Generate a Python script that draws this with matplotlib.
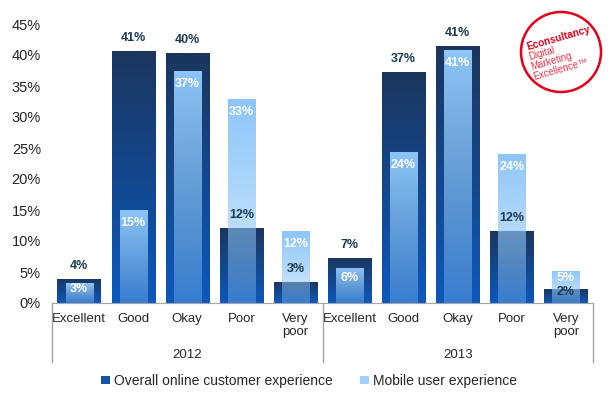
import numpy as np
import matplotlib
matplotlib.use("Agg")
import matplotlib.pyplot as plt
from matplotlib.patches import Patch, Ellipse
from matplotlib.lines import Line2D
from matplotlib.transforms import blended_transform_factory, offset_copy

plt.rcParams['font.family'] = ['Liberation Sans', 'DejaVu Sans']

# --- data ---
years = ["2012", "2013"]
ratings = ["Excellent", "Good", "Okay", "Poor", "Very\npoor"]
overall = [3.9, 40.6, 40.3, 12.1, 3.4,
           7.3, 37.3, 41.4, 11.6, 2.2]
mobile = [3.2, 15.0, 37.4, 32.9, 11.6,
          5.7, 24.4, 40.8, 24.1, 5.1]
series_names = ["Overall online customer experience", "Mobile user experience"]
yticks = [0, 5, 10, 15, 20, 25, 30, 35, 40, 45]

# colours
dark_top = np.array([27, 54, 94]) / 255
dark_bot = np.array([12, 88, 188]) / 255
light_rgb = np.array([141, 198, 249]) / 255
label_dark = "#1b3a55"

W, H = 615, 398
fig = plt.figure(figsize=(W / 100, H / 100), dpi=100)
ax = fig.add_axes([52 / W, 1 - 303 / H, (593 - 52) / W, 279 / H])

x = np.arange(len(overall))


def gradient_fill(ax, rects, c_top, c_bot, a_top, a_bot, z):
    # paint each bar with a vertical gradient clipped to its rectangle
    n = 80
    t = np.linspace(0, 1, n)[:, None]
    for r in rects:
        rgba = np.zeros((n, 1, 4))
        rgba[..., :3] = (c_bot + (c_top - c_bot) * t[..., None])
        rgba[..., 3] = a_bot + (a_top - a_bot) * t
        x0, y0, w, h = r.get_x(), r.get_y(), r.get_width(), r.get_height()
        im = ax.imshow(rgba, extent=[x0, x0 + w, y0, y0 + h], origin="lower",
                       aspect="auto", interpolation="bilinear", zorder=z)
        im.set_clip_path(r)


bars_dark = ax.bar(x, overall, width=0.8, color="none", zorder=2)
bars_light = ax.bar(x, mobile, width=0.5, color="none", zorder=4)
gradient_fill(ax, bars_dark, dark_top, dark_bot, 1.0, 1.0, 2)
gradient_fill(ax, bars_light, light_rgb, light_rgb, 1.0, 0.35, 4)

ax.set_xlim(-0.5, len(overall) - 0.5)
ax.set_ylim(0, 45)

# value labels
px_per_unit = 279 / 45
for i in x:
    o, m = overall[i], mobile[i]
    m_px = m * px_per_unit
    off_light = -min(13, m_px * 0.3)
    if 0 < m - o < 4:
        off_light = -7
        off_dark = -3
        va_dark = "center"
    else:
        off_dark = 7
        va_dark = "bottom"
    ax.text(i, m, f"{round(m)}%", ha="center", va="center", color="white",
            fontsize=9, fontweight="bold", zorder=6,
            transform=offset_copy(ax.transData, fig=fig, y=off_light, units="dots"))
    ax.text(i, o, f"{round(o)}%", ha="center", va=va_dark, color=label_dark,
            fontsize=9, fontweight="bold", zorder=7,
            transform=offset_copy(ax.transData, fig=fig, y=off_dark, units="dots"))

# axes styling
for s in ["top", "right", "left"]:
    ax.spines[s].set_visible(False)
ax.spines["bottom"].set_color("#a6a6a6")
ax.set_yticks(yticks)
ax.set_yticklabels([f"{v}%" for v in yticks], fontsize=10.5, color="#262626")
ax.tick_params(axis="y", length=0, pad=8)
ax.set_xticks(x)
ax.set_xticklabels(ratings * len(years), fontsize=9.5, color="#262626", linespacing=1.15)
ax.tick_params(axis="x", length=0, pad=7)

# group separators and year labels
trans = blended_transform_factory(ax.transData, ax.transAxes)
for xs in [-0.5, 4.5, 9.5]:
    ax.add_line(Line2D([xs, xs], [0, -59 / 279], transform=trans, color="#a6a6a6",
                       lw=1, clip_on=False))
for g, yr in enumerate(years):
    ax.text(g * 5 + 2, -52 / 279, yr, transform=trans, ha="center", va="center",
            fontsize=9.5, color="#262626")

# legend
handles = [Patch(facecolor="#1552a8"), Patch(facecolor="#a3d0f8")]
fig.legend(handles, series_names, loc="center", bbox_to_anchor=(309 / W, 1 - 381 / H),
           ncol=2, frameon=False, fontsize=10, handlelength=0.6, handleheight=0.5,
           handletextpad=0.3, columnspacing=2.0, labelcolor="#262626")

# Econsultancy badge
red = "#e2001a"
fig.patches.append(Ellipse((561 / W, 1 - 52 / H), 80 / W, 80 / H, transform=fig.transFigure,
                           facecolor="white", edgecolor=red, lw=1.8))
rot = 16
fig.text(528 / W, 1 - 50 / H, "Econsultancy", color=red, fontsize=7.3, fontweight="bold",
         rotation=rot, rotation_mode="anchor", ha="left", va="baseline")
for (tx, ty), word in zip([(530, 60), (532, 70), (534, 80)],
                          ["Digital", "Marketing", "Excellence\u2122"]):
    fig.text(tx / W, 1 - ty / H, word, color=red, fontsize=7, alpha=0.8,
             rotation=rot, rotation_mode="anchor", ha="left", va="baseline")

fig.savefig("out.png", dpi=100)
